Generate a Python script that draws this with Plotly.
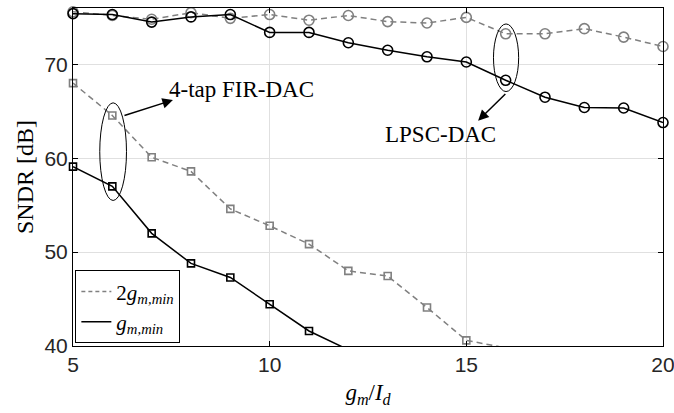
import numpy as np
import plotly.graph_objects as go

gm_id = [5, 6, 7, 8, 9, 10, 11, 12, 13, 14, 15, 16, 17, 18, 19, 20]

# LPSC-DAC
lpsc_2gm = [75.6, 75.2, 74.8, 75.5, 74.9, 75.3, 74.7, 75.2, 74.55, 74.4, 75.0, 73.25, 73.25, 73.8, 72.9, 71.9]
lpsc_gm = [75.4, 75.3, 74.5, 75.05, 75.3, 73.4, 73.4, 72.3, 71.5, 70.8, 70.25, 68.3, 66.5, 65.4, 65.35, 63.8]

# 4-tap FIR-DAC
fir_x_2gm = [5, 6, 7, 8, 9, 10, 11, 12, 13, 14, 15, 16]
fir_2gm = [68.0, 64.55, 60.1, 58.6, 54.6, 52.8, 50.85, 48.0, 47.45, 44.1, 40.6, 39.8]
fir_x_gm = [5, 6, 7, 8, 9, 10, 11, 12]
fir_gm = [59.1, 57.0, 52.0, 48.8, 47.3, 44.45, 41.6, 39.6]

x_ticks = [5, 10, 15, 20]
y_ticks = [40, 50, 60, 70]
x_range = [5, 20]
y_range = [40, 76]

GRAY = "#808080"
BLACK = "#000000"
SERIF = "Liberation Serif"
SANS = "Liberation Sans"

fig = go.Figure()


def add_series(x, y, color, dash, symbol, size):
    x = np.asarray(x, dtype=float)
    y = np.asarray(y, dtype=float)
    fig.add_trace(go.Scatter(x=x, y=y, mode="lines", showlegend=False,
                             line=dict(color=color, width=1.5, dash=dash),
                             hoverinfo="skip"))
    inside = (y >= y_range[0]) & (y <= y_range[1])
    fig.add_trace(go.Scatter(x=x[inside], y=y[inside], mode="markers", showlegend=False,
                             cliponaxis=False,
                             marker=dict(symbol=symbol, size=size, color=color,
                                         line=dict(color=color, width=1.6))))


DASH = "6px,4px"
add_series(gm_id, lpsc_2gm, GRAY, DASH, "circle-open", 10)
add_series(gm_id, lpsc_gm, BLACK, "solid", "circle-open", 10)
add_series(fir_x_2gm, fir_2gm, GRAY, DASH, "square-open", 7)
add_series(fir_x_gm, fir_gm, BLACK, "solid", "square-open", 7)

# legend entries (lines only)
fig.add_trace(go.Scatter(x=[None], y=[None], mode="lines",
                         name="2<i>g</i><sub><i>m,min</i></sub>",
                         line=dict(color=GRAY, width=1.5, dash="4px,3px")))
fig.add_trace(go.Scatter(x=[None], y=[None], mode="lines",
                         name="<i>g</i><sub><i>m,min</i></sub>",
                         line=dict(color=BLACK, width=1.5)))

# ellipses
fig.add_shape(type="circle", xref="x", yref="y", x0=5.68, x1=6.36, y0=55.5, y1=65.9,
              line=dict(color=BLACK, width=1))
fig.add_shape(type="circle", xref="x", yref="y", x0=15.69, x1=16.33, y0=67.1, y1=74.3,
              line=dict(color=BLACK, width=1))

# arrows
fig.add_annotation(x=7.54, y=66.2, ax=6.27, ay=64.5, xref="x", yref="y", axref="x", ayref="y",
                   text="", showarrow=True, arrowhead=2, arrowsize=1.4, arrowwidth=1.5,
                   arrowcolor=BLACK)
fig.add_annotation(x=15.3, y=64.0, ax=16.03, ay=67.0, xref="x", yref="y", axref="x", ayref="y",
                   text="", showarrow=True, arrowhead=2, arrowsize=1.4, arrowwidth=1.5,
                   arrowcolor=BLACK)

# labels
fig.add_annotation(x=7.39, y=67.3, xref="x", yref="y", xanchor="left", yanchor="middle",
                   text="4-tap FIR-DAC", showarrow=False,
                   font=dict(family=SERIF, size=23, color=BLACK))
fig.add_annotation(x=14.34, y=62.5, xref="x", yref="y", xanchor="center", yanchor="middle",
                   text="LPSC-DAC", showarrow=False,
                   font=dict(family=SERIF, size=23, color=BLACK))

axis_common = dict(showline=True, linecolor=BLACK, linewidth=1, mirror="ticks",
                   ticks="inside", ticklen=5, tickcolor=BLACK, tickwidth=1,
                   showgrid=True, gridcolor="#e0e0e0", gridwidth=1, zeroline=False,
                   ticklabeloverflow="allow", automargin=False,
                   tickfont=dict(family=SANS, size=21, color="#262626"))

fig.update_xaxes(range=x_range, tickvals=x_ticks, **axis_common,
                 title=dict(text="<i>g</i><sub><i>m</i></sub>/<i>I</i><sub><i>d</i></sub>",
                            font=dict(family=SERIF, size=23, color=BLACK), standoff=8))
fig.update_yaxes(range=y_range, tickvals=y_ticks, **axis_common,
                 title=dict(text="SNDR [dB]", font=dict(family=SERIF, size=24, color=BLACK),
                            standoff=4))

fig.update_layout(
    width=674, height=413,
    margin=dict(l=73, r=11, t=8, b=67, autoexpand=False),
    paper_bgcolor="white", plot_bgcolor="white",
    legend=dict(x=0.004, y=0.008, xanchor="left", yanchor="bottom",
                bgcolor="white", bordercolor=BLACK, borderwidth=1,
                font=dict(family=SERIF, size=21, color=BLACK),
                tracegroupgap=0, itemwidth=30),
    showlegend=True,
)

fig.write_html("out.html")
